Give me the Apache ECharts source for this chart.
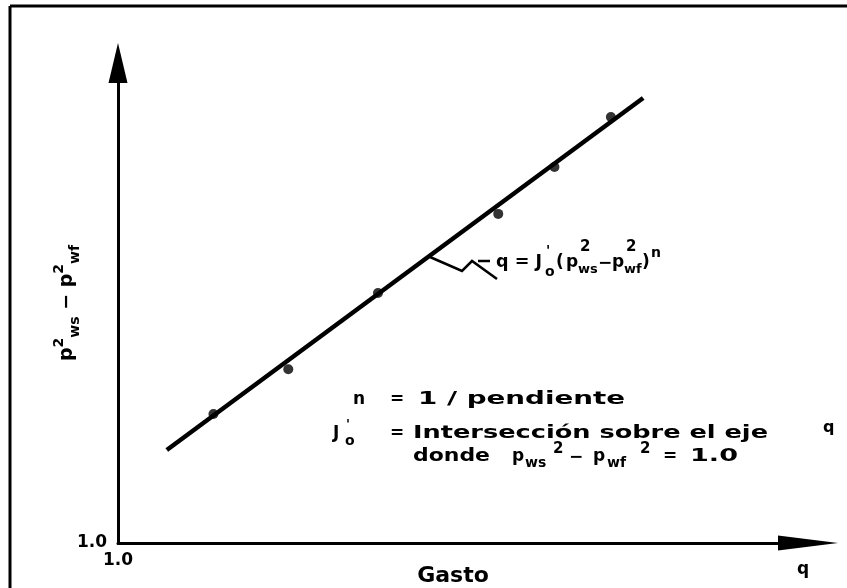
<!DOCTYPE html>
<html><head><meta charset="utf-8">
<script src="https://cdn.jsdelivr.net/npm/echarts@6/dist/echarts.min.js"></script>
<style>html,body{margin:0;padding:0;background:#fff}#c{width:847px;height:588px}</style>
</head><body><div id="c"></div>
<script>
// ---- data (log-log: gasto q vs pws^2 - pwf^2) ----
const qFit = [1.63, 192];          // fitted straight line, end points
const dpFit = [3.81, 604];
const qObs = [2.6, 5.5, 13.5, 45, 79, 139];   // measured points
const dpObs = [6.4, 12.2, 36.5, 114, 224, 460];
const axisMin = 1, axisMax = 1000;
const originLabel = '1.0';

const FONT = "'DejaVu Sans', sans-serif";
const mctx = document.createElement('canvas').getContext('2d');
function T(text, x, y, size, w) {
  const font = 'bold ' + size + 'px ' + FONT;
  const el = {type: 'text', x: x, y: y, silent: true, z: 10,
    style: {text: text, font: font, fill: '#000', align: 'left', verticalAlign: 'middle',
            textAlign: 'left', textVerticalAlign: 'middle'}};
  if (w) { mctx.font = font; el.scaleX = w / mctx.measureText(text).width; }
  return el;
}

const chart = echarts.init(document.getElementById('c'));
const axisFont = {color: '#000', fontFamily: FONT, fontWeight: 'bold', fontSize: 17};
chart.setOption({
  animation: false,
  backgroundColor: '#fff',
  grid: {left: 118, right: 39, top: 63, bottom: 45, containLabel: false, outerBoundsMode: 'none'},
  xAxis: {
    type: 'log', logBase: 10, min: axisMin, max: axisMax,
    name: 'Gasto', nameLocation: 'middle', nameGap: 22, nameMoveOverlap: false,
    nameTextStyle: {color: '#000', fontFamily: FONT, fontWeight: 'bold', fontSize: 22, padding: [0, 20, 0, 0]},
    axisLine: {lineStyle: {color: '#000', width: 3}, symbol: ['none', 'triangle'], symbolSize: [15, 60]},
    axisTick: {show: false}, splitLine: {show: false}, minorTick: {show: false},
    axisLabel: Object.assign({margin: 9, formatter: v => Math.abs(v - axisMin) < 1e-9 ? originLabel : ''}, axisFont)
  },
  yAxis: {
    type: 'log', logBase: 10, min: axisMin, max: axisMax,
    name: '{p|p}{sup|2}{sub|ws}{p| − }{p|p}{sup|2}{sub|wf}',
    nameLocation: 'middle', nameRotate: 90, nameGap: 36, nameMoveOverlap: false,
    nameTextStyle: {color: '#000', fontFamily: FONT, fontWeight: 'bold', fontSize: 19,
      rich: {
        p: {fontSize: 19, fontWeight: 'bold', fontFamily: FONT, color: '#000', lineHeight: 30, verticalAlign: 'middle'},
        sup: {fontSize: 14, fontWeight: 'bold', fontFamily: FONT, color: '#000', lineHeight: 14, verticalAlign: 'top'},
        sub: {fontSize: 14, fontWeight: 'bold', fontFamily: FONT, color: '#000', lineHeight: 14, verticalAlign: 'bottom'}
      }},
    axisLine: {lineStyle: {color: '#000', width: 3}, symbol: ['none', 'triangle'], symbolSize: [19, 40]},
    axisTick: {show: false}, splitLine: {show: false}, minorTick: {show: false},
    axisLabel: Object.assign({margin: 11, formatter: v => Math.abs(v - axisMin) < 1e-9 ? originLabel : ''}, axisFont)
  },
  series: [
    {type: 'line', data: qFit.map((q, i) => [q, dpFit[i]]), symbol: 'none',
     lineStyle: {color: '#000', width: 4.5}, z: 2},
    {type: 'scatter', data: qObs.map((q, i) => [q, dpObs[i]]), symbolSize: 10,
     itemStyle: {color: '#000'}, z: 3}
  ],
  graphic: [
    // frame
    {type: 'line', shape: {x1: 10, y1: 6, x2: 847, y2: 6}, style: {stroke: '#000', lineWidth: 3}},
    {type: 'line', shape: {x1: 10, y1: 6, x2: 10, y2: 588}, style: {stroke: '#000', lineWidth: 3}},
    // leader to the equation
    {type: 'polyline', shape: {points: [[430, 257], [462, 271], [472, 261], [497, 279]]},
     style: {stroke: '#000', lineWidth: 2.5, fill: null}},
    {type: 'line', shape: {x1: 478, y1: 261, x2: 490, y2: 261}, style: {stroke: '#000', lineWidth: 2.5}},
    // equation q = J'o (pws^2 - pwf^2)^n
    T('q = J', 496, 263, 17, 46),
    T("'", 546, 251, 14), T('o', 545, 272, 14),
    T('(', 556, 263, 17), T('p', 566, 263, 17),
    T('2', 580, 247, 15), T('ws', 578, 270, 13),
    T('−', 598, 264, 17), T('p', 612, 263, 17),
    T('2', 626, 247, 15), T('wf', 624, 270, 13),
    T(')', 642, 263, 17), T('n', 651, 253, 14),
    // legend text block
    T('n', 353, 400, 17), T('=', 390, 400, 17), T('1 / pendiente', 418, 400, 17, 207),
    T('J', 333, 434, 17), T("'", 346, 425, 13), T('o', 345, 441, 14), T('=', 390, 434, 17),
    T('Intersección sobre el eje', 413, 434, 17, 355), T('q', 823, 428, 16),
    T('donde', 413, 457, 17, 77), T('p', 512, 457, 17), T('ws', 525, 463, 14), T('2', 553, 449, 15),
    T('−', 569, 458, 17), T('p', 593, 457, 17), T('wf', 607, 463, 14), T('2', 640, 449, 15),
    T('=', 663, 457, 17), T('1.0', 690, 457, 17, 48),
    // axis end label
    T('q', 797, 570, 17)
  ]
});
</script>
</body></html>
